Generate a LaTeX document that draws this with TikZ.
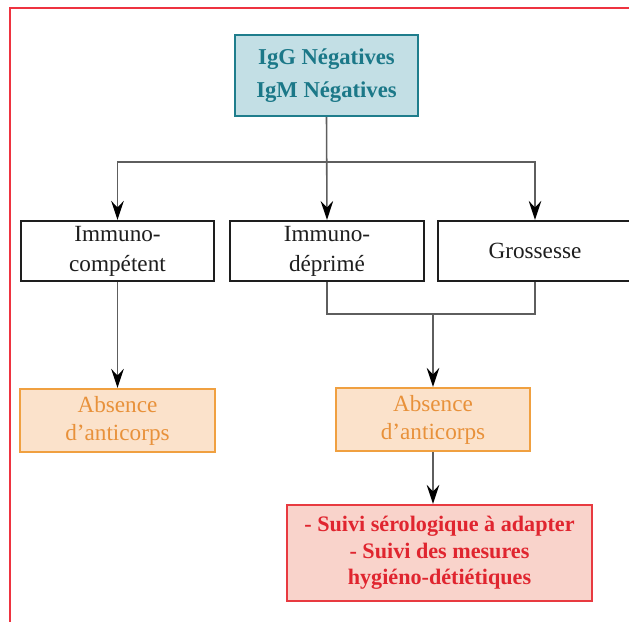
\documentclass[tikz,border=0pt]{standalone}
\usepackage{fontspec}
\setmainfont{Liberation Serif}
\usetikzlibrary{arrows.meta}

\definecolor{tealfill}{HTML}{C3DFE5}
\definecolor{tealline}{HTML}{1F7D8C}
\definecolor{tealtext}{HTML}{1B7888}
\definecolor{orfill}{HTML}{FBE2CB}
\definecolor{orline}{HTML}{F0A040}
\definecolor{ortext}{HTML}{E8913A}
\definecolor{redfill}{HTML}{F9D3CB}
\definecolor{redline}{HTML}{E83A40}
\definecolor{redtext}{HTML}{E0252F}
\definecolor{framered}{HTML}{EE3340}
\definecolor{wire}{HTML}{5E5E5E}
\definecolor{ink}{HTML}{1E1E1E}

\tikzset{
  box/.style={rectangle, draw, line width=1.2pt, align=center, inner sep=0pt,
    minimum height=12mm},
  headbox/.style={box, fill=tealfill, draw=tealline, text=tealtext,
    font=\fontsize{12.9}{18.5}\selectfont\bfseries,
    minimum width=36.6mm, minimum height=16.2mm},
  casebox/.style={box, fill=white, draw=ink, text=ink,
    font=\fontsize{13.2}{17}\selectfont, minimum width=38.7mm},
  resultbox/.style={box, fill=orfill, draw=orline, text=ortext,
    font=\fontsize{13.2}{16}\selectfont, minimum width=38.9mm, minimum height=12.6mm},
  actionbox/.style={box, fill=redfill, draw=redline, text=redtext,
    font=\fontsize{12.6}{15}\selectfont\bfseries,
    minimum width=61mm, minimum height=19.2mm},
  link/.style={draw=wire, line width=0.9pt},
  arrowlink/.style={link, -{Stealth[length=3.8mm, width=2.5mm, inset=1.3mm, color=black]}},
  outerframe/.style={draw=framered, line width=1.6pt}
}

\begin{document}
\begin{tikzpicture}[x=0.2mm, y=-0.2mm]
  \useasboundingbox (0,0) rectangle (629,622);

  % outer frame
  \draw[outerframe] (10,640) -- (10,8) -- (660,8);

  % nodes
  \node[headbox] (igs) at (326.5,75.5) {IgG Négatives\\IgM Négatives};

  \node[casebox] (comp) at (117.5,251) {Immuno-\\compétent};
  \node[casebox] (depr) at (327,251) {Immuno-\\déprimé};
  \node[casebox] (gross) at (535,251) {Grossesse};

  \node[resultbox] (abs1) at (117.5,420.5) {Absence\\d’anticorps};
  \node[resultbox] (abs2) at (433,419.5) {Absence\\d’anticorps};

  \node[actionbox] (suivi) at (439.5,553)
    {- Suivi sérologique à adapter\\- Suivi des mesures\\hygiéno-détiétiques};

  % branching from the serology result
  \coordinate (split) at (igs.south |- 0,162);
  \draw[arrowlink] (igs.south) -- (depr.north);
  \draw[arrowlink] (split) -| (comp.north);
  \draw[arrowlink] (split) -| (gross.north);

  % immunocompetent branch
  \draw[arrowlink] (comp.south) -- (abs1.north);

  % immunodepressed and pregnancy branches merge
  \coordinate (merge) at (abs2.north |- 0,314);
  \draw[link] (depr.south) |- (merge) -| (gross.south);
  \draw[arrowlink] (merge) -- (abs2.north);

  % follow-up
  \draw[arrowlink] (abs2.south) -- (abs2.south |- suivi.north);
\end{tikzpicture}
\end{document}
